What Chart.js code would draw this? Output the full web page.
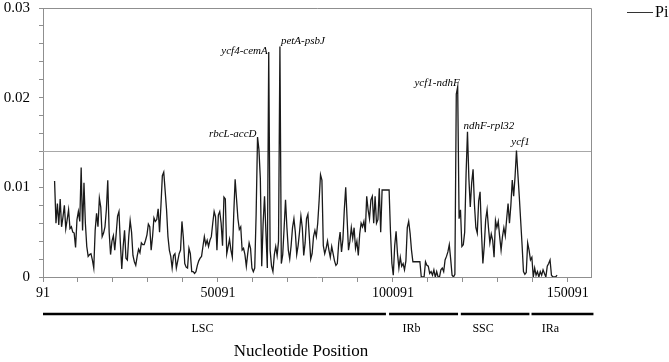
<!DOCTYPE html>
<html lang="en">
<head>
<meta charset="UTF-8" />
<title>Nucleotide diversity (Pi)</title>
<script src="https://cdn.jsdelivr.net/npm/chart.js"></script>
<style>
  html, body { margin: 0; padding: 0; background: #ffffff; }
  #piChart { display: block; }
</style>
</head>
<body>
<canvas id="piChart" width="669" height="362"></canvas>
<script>
  // sliding window midpoints: first window at 3400 bp, step 400 bp
  const windowStart = 3400;
  const windowStep = 400;

  const piValues = [
    0.0107,0.0060,0.0082,0.0058,0.0087,0.0056,0.0067,0.0080,0.0054,0.0064,0.0075,0.0054,0.0056,0.0050,0.0049,0.0033,0.0064,0.0073,0.0062,0.0122,
    0.0052,0.0105,0.0060,0.0034,0.0023,0.0025,0.0026,0.0019,0.0010,0.0052,0.0071,0.0056,0.0088,0.0078,0.0045,0.0049,0.0056,0.0075,0.0108,0.0050,
    0.0025,0.0040,0.0046,0.0030,0.0048,0.0068,0.0073,0.0038,0.0009,0.0034,0.0052,0.0021,0.0019,0.0045,0.0063,0.0050,0.0024,0.0017,0.0013,0.0023,
    0.0031,0.0027,0.0038,0.0036,0.0036,0.0041,0.0047,0.0059,0.0056,0.0030,0.0045,0.0066,0.0062,0.0064,0.0076,0.0050,0.0080,0.0113,0.0117,0.0096,
    0.0075,0.0045,0.0030,0.0023,0.0010,0.0024,0.0026,0.0010,0.0018,0.0026,0.0030,0.0062,0.0044,0.0015,0.0011,0.0010,0.0032,0.0026,0.0006,0.0006,
    0.0004,0.0006,0.0013,0.0018,0.0021,0.0023,0.0034,0.0045,0.0036,0.0041,0.0034,0.0041,0.0045,0.0060,0.0073,0.0067,0.0030,0.0069,0.0073,0.0060,
    0.0035,0.0089,0.0087,0.0026,0.0034,0.0042,0.0030,0.0022,0.0070,0.0109,0.0087,0.0065,0.0053,0.0056,0.0030,0.0032,0.0025,0.0012,0.0026,0.0038,
    0.0032,0.0010,0.0006,0.0010,0.0070,0.0156,0.0142,0.0110,0.0012,0.0060,0.0090,0.0050,0.0010,0.0251,0.0030,0.0012,0.0006,0.0025,0.0034,0.0024,
    0.0040,0.0257,0.0015,0.0025,0.0055,0.0086,0.0055,0.0030,0.0020,0.0035,0.0055,0.0065,0.0050,0.0025,0.0035,0.0050,0.0068,0.0055,0.0024,0.0038,
    0.0065,0.0070,0.0045,0.0020,0.0026,0.0045,0.0052,0.0045,0.0060,0.0085,0.0114,0.0108,0.0035,0.0026,0.0032,0.0040,0.0030,0.0022,0.0034,0.0026,
    0.0018,0.0013,0.0015,0.0038,0.0050,0.0028,0.0042,0.0075,0.0100,0.0065,0.0030,0.0040,0.0055,0.0043,0.0055,0.0032,0.0040,0.0024,0.0048,0.0060,
    0.0056,0.0062,0.0050,0.0090,0.0075,0.0065,0.0086,0.0090,0.0060,0.0090,0.0060,0.0064,0.0099,0.0050,0.0097,0.0097,0.0097,0.0097,0.0097,0.0097,
    0.0050,0.0015,0.0002,0.0035,0.0051,0.0026,0.0010,0.0022,0.0012,0.0015,0.0008,0.0018,0.0055,0.0062,0.0049,0.0030,0.0017,0.0017,0.0017,0.0017,
    0.0017,0.0017,0,0,0,0.0017,0.0013,0.0012,0.0004,0.0006,0.0002,0.0008,0,0.0006,0,0,0.0008,0.0010,0.0006,0.0019,
    0.0023,0.0028,0.0036,0.0020,0.0002,0,0.0003,0.0204,0.0212,0.0065,0.0075,0.0034,0.0036,0.0050,0.0115,0.0162,0.0110,0.0078,0.0105,0.0120,
    0.0080,0.0055,0.0049,0.0085,0.0095,0.0050,0.0015,0.0035,0.0064,0.0075,0.0055,0.0038,0.0048,0.0041,0.0022,0.0063,0.0055,0.0062,0.0045,0.0030,
    0.0045,0.0055,0.0046,0.0065,0.0082,0.0060,0.0080,0.0108,0.0090,0.0112,0.0141,0.0115,0.0090,0.0063,0.0036,0.0006,0.0003,0.0005,0.0038,0.0030,
    0.0019,0.0022,0,0.0010,0.0002,0.0006,0,0.0006,0.0002,0.0008,0.0004,0,0.0012,0.0015,0.0019,0.0002,0,0,0,0.0002
  ];

  const piThreshold = 0.014;

  const xTickValues = [91, 10091, 20091, 30091, 40091, 50091, 60091, 70091, 80091, 90091,
                       100091, 110091, 120091, 130091, 140091, 150091];
  const xLabelValues = [91, 50091, 100091, 150091];
  const yTickValues = [0, 0.002, 0.004, 0.006, 0.008, 0.01, 0.012, 0.014, 0.016, 0.018,
                       0.02, 0.022, 0.024, 0.026, 0.028, 0.03];
  const yLabelValues = [0, 0.01, 0.02, 0.03];

  const hotspotLabels = ['rbcL-accD', 'ycf4-cemA', 'petA-psbJ', 'ycf1-ndhF', 'ndhF-rpl32', 'ycf1'];
  const hotspotPositions = [61400, 64600, 67800, 118600, 121400, 135400];

  const regionNames = ['LSC', 'IRb', 'SSC', 'IRa'];
  const regionStarts = [91, 99000, 119500, 139700];
  const regionEnds = [98100, 118700, 139100, 157400];

  const positions = piValues.map((_, i) => windowStart + i * windowStep);
  const serif = "'Liberation Serif', 'Times New Roman', serif";
  const axisGray = '#8f8f8f';

  // label placement next to each peak (text anchor offsets in px)
  const hotspotStyle = [
    { align: 'right', dx: -1, dy: -3 },
    { align: 'right', dx: -1, dy: -1 },
    { align: 'left', dx: 1, dy: -5 },
    { align: 'right', dx: 2, dy: -4 },
    { align: 'left', dx: -4, dy: -6 },
    { align: 'center', dx: 4, dy: -8 }
  ];

  const extras = {
    id: 'extras',
    beforeDatasetsDraw(chart) {
      const { ctx, chartArea, scales } = chart;
      const y = Math.round(scales.y.getPixelForValue(piThreshold)) + 0.5;
      ctx.save();
      ctx.strokeStyle = '#a8a8a8';
      ctx.lineWidth = 1;
      ctx.beginPath();
      ctx.moveTo(chartArea.left, y);
      ctx.lineTo(chartArea.right, y);
      ctx.stroke();
      ctx.restore();
    },
    afterDraw(chart) {
      const { ctx, chartArea, scales } = chart;
      const xs = scales.x, ys = scales.y;
      ctx.save();

      // box: top and right border
      ctx.strokeStyle = axisGray;
      ctx.lineWidth = 1;
      ctx.beginPath();
      ctx.moveTo(chartArea.left, chartArea.top + 0.5);
      ctx.lineTo(chartArea.right + 0.5, chartArea.top + 0.5);
      ctx.lineTo(chartArea.right + 0.5, chartArea.bottom);
      ctx.stroke();

      // hotspot labels
      ctx.fillStyle = '#000';
      ctx.font = 'italic 11px ' + serif;
      ctx.textBaseline = 'middle';
      hotspotLabels.forEach((label, i) => {
        const idx = positions.indexOf(hotspotPositions[i]);
        const px = xs.getPixelForValue(positions[idx]);
        const py = ys.getPixelForValue(piValues[idx]);
        const st = hotspotStyle[i];
        ctx.textAlign = st.align;
        ctx.fillText(label, px + st.dx, py + st.dy);
      });

      // legend
      ctx.strokeStyle = '#333';
      ctx.beginPath();
      ctx.moveTo(627, 12.5);
      ctx.lineTo(653, 12.5);
      ctx.stroke();
      ctx.font = '16px ' + serif;
      ctx.textAlign = 'left';
      ctx.fillText('Pi', 655, 13);

      // genome regions
      ctx.strokeStyle = '#000';
      ctx.lineWidth = 2.5;
      ctx.font = '12px ' + serif;
      ctx.textAlign = 'center';
      regionNames.forEach((name, i) => {
        const a = xs.getPixelForValue(regionStarts[i]);
        const b = xs.getPixelForValue(regionEnds[i]);
        ctx.beginPath();
        ctx.moveTo(a, 314);
        ctx.lineTo(b, 314);
        ctx.stroke();
        ctx.fillText(name, (a + b) / 2 - 12, 329);
      });

      // axis title
      ctx.font = '17px ' + serif;
      ctx.fillText('Nucleotide Position', chartArea.left + 258, 352);
      ctx.restore();
    }
  };

  new Chart(document.getElementById('piChart'), {
    type: 'line',
    data: {
      datasets: [{
        label: 'Pi',
        data: positions.map((x, i) => ({ x: x, y: piValues[i] })),
        borderColor: '#1a1a1a',
        borderWidth: 1.3,
        pointRadius: 0,
        tension: 0,
        fill: false
      }]
    },
    options: {
      responsive: false,
      animation: false,
      devicePixelRatio: 1,
      layout: { padding: { top: 0, right: 78, bottom: 0, left: 0 } },
      plugins: { legend: { display: false }, tooltip: { enabled: false } },
      scales: {
        x: {
          type: 'linear',
          min: 91,
          max: 156700,
          afterBuildTicks: axis => { axis.ticks = xTickValues.map(v => ({ value: v })); },
          afterFit: axis => { axis.height = 85; },
          ticks: {
            autoSkip: false,
            maxRotation: 0,
            padding: 3,
            color: '#000',
            font: { family: serif, size: 14 },
            callback: v => xLabelValues.includes(v) ? String(v) : ''
          },
          grid: { drawOnChartArea: false, drawTicks: true, tickLength: 5, color: axisGray },
          border: { display: true, color: axisGray }
        },
        y: {
          min: 0,
          max: 0.03,
          afterBuildTicks: axis => { axis.ticks = yTickValues.map(v => ({ value: v })); },
          // fixed axis width, and keep the plot top 8px below the canvas edge
          afterFit: axis => { axis.width = 43; axis.paddingTop = 8; axis.paddingBottom = 0; },
          ticks: {
            autoSkip: false,
            padding: 9,
            color: '#000',
            font: { family: serif, size: 15 },
            callback: v => yLabelValues.includes(v) ? String(v) : ''
          },
          grid: { drawOnChartArea: false, drawTicks: true, tickLength: 4, color: axisGray },
          border: { display: true, color: axisGray }
        }
      }
    },
    plugins: [extras]
  });
</script>
</body>
</html>
